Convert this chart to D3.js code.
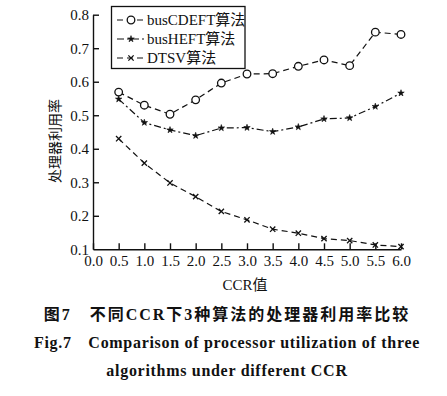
<!DOCTYPE html>
<html>
<head>
<meta charset="utf-8">
<script src="https://cdn.jsdelivr.net/npm/d3@7"></script>
<style>
  body { margin: 0; background: #fff; }
  svg text { font-family: "Liberation Serif", "Noto Sans CJK SC", serif; fill: #111; }
</style>
</head>
<body>
<script>
// data
const ccr = [0.5, 1.0, 1.5, 2.0, 2.5, 3.0, 3.5, 4.0, 4.5, 5.0, 5.5, 6.0];
const busCDEFT = [0.569, 0.530, 0.503, 0.546, 0.596, 0.623, 0.624, 0.646, 0.665, 0.648, 0.748, 0.741];
const busHEFT = [0.548, 0.478, 0.456, 0.439, 0.462, 0.463, 0.451, 0.465, 0.489, 0.492, 0.526, 0.566];
const DTSV = [0.430, 0.357, 0.298, 0.257, 0.213, 0.188, 0.160, 0.148, 0.132, 0.126, 0.113, 0.108];
const seriesNames = ["busCDEFT算法", "busHEFT算法", "DTSV算法"];
const xTicks = [0, 0.5, 1, 1.5, 2, 2.5, 3, 3.5, 4, 4.5, 5, 5.5, 6];
const yTicks = [0.1, 0.2, 0.3, 0.4, 0.5, 0.6, 0.7, 0.8];

const series = [
  {name: seriesNames[0], values: busCDEFT, dash: "6,4", marker: "circle"},
  {name: seriesNames[1], values: busHEFT, dash: "7,3,2,3", marker: "star"},
  {name: seriesNames[2], values: DTSV, dash: "6,4", marker: "cross"}
];

const svg = d3.select("body").append("svg")
  .attr("width", 447)
  .attr("height", 396);

const x = d3.scaleLinear().domain([0, 6]).range([93, 401]);
const y = d3.scaleLinear().domain([0.1, 0.8]).range([249.3, 14.7]);

// axes, ticks pointing inwards
const xAxis = svg.append("g")
  .attr("transform", "translate(0,249.3)")
  .call(d3.axisBottom(x).tickValues(xTicks).tickFormat(d3.format(".1f"))
    .tickSizeInner(-6).tickSizeOuter(0).tickPadding(6));
const yAxis = svg.append("g")
  .attr("transform", "translate(93,0)")
  .call(d3.axisLeft(y).tickValues(yTicks).tickFormat(d3.format(".1f"))
    .tickSizeInner(-6).tickSizeOuter(0).tickPadding(4));

[xAxis, yAxis].forEach(g => {
  g.selectAll("path, line").attr("stroke", "#111").attr("stroke-width", 1.4);
  g.selectAll("text").style("font-size", "15px").attr("fill", "#111");
});
yAxis.select(".tick:first-of-type line").remove();

svg.append("text")
  .attr("x", 245).attr("y", 290)
  .attr("text-anchor", "middle")
  .style("font-size", "15px")
  .text("CCR值");

svg.append("text")
  .attr("transform", "translate(60,141) rotate(-90)")
  .attr("text-anchor", "middle")
  .style("font-size", "14px")
  .text("处理器利用率");

const line = d3.line()
  .x((d, i) => x(ccr[i]))
  .y(d => y(d));

function drawMarker(g, type, cx, cy) {
  if (type === "circle") {
    g.append("circle").attr("cx", cx).attr("cy", cy).attr("r", 3.8)
      .attr("fill", "#fff").attr("stroke", "#111").attr("stroke-width", 1.3);
  } else if (type === "star") {
    g.append("path").attr("transform", `translate(${cx},${cy})`)
      .attr("d", d3.symbol(d3.symbolStar, 13)())
      .attr("fill", "#111").attr("stroke", "#111").attr("stroke-width", 0.6);
  } else {
    g.append("path").attr("transform", `translate(${cx},${cy})`)
      .attr("d", d3.symbol(d3.symbolTimes, 20)())
      .attr("fill", "none").attr("stroke", "#111").attr("stroke-width", 1.3);
  }
}

series.forEach(s => {
  svg.append("path")
    .datum(s.values)
    .attr("d", line)
    .attr("fill", "none")
    .attr("stroke", "#111")
    .attr("stroke-width", 1.2)
    .attr("stroke-dasharray", s.dash);
  const mg = svg.append("g");
  s.values.forEach((v, i) => drawMarker(mg, s.marker, x(ccr[i]), y(v)));
});

// legend
svg.append("rect")
  .attr("x", 111.5).attr("y", 6.5)
  .attr("width", 133.5).attr("height", 62)
  .attr("fill", "#fff").attr("stroke", "#111").attr("stroke-width", 1.3);

const legend = svg.selectAll(".legend")
  .data(series)
  .enter().append("g")
  .attr("class", "legend")
  .attr("transform", (d, i) => `translate(0,${20 + i * 19})`);

legend.append("line")
  .attr("x1", 117).attr("x2", 146)
  .attr("stroke", "#111").attr("stroke-width", 1.2)
  .attr("stroke-dasharray", d => d.dash);
legend.each(function(d) { drawMarker(d3.select(this), d.marker, 131, 0); });
legend.append("text")
  .attr("x", 147).attr("dy", "0.35em")
  .style("font-size", "15px")
  .text(d => d.name);

// caption
const caption = [
  {t: "图7　不同CCR下3种算法的处理器利用率比较", y: 320, size: 16, ls: 2},
  {t: "Fig.7　Comparison of processor utilization of three", y: 348, size: 16, ls: 0.7},
  {t: "algorithms under different CCR", y: 376, size: 16, ls: 0.7}
];
svg.selectAll(".cap")
  .data(caption)
  .enter().append("text")
  .attr("class", "cap")
  .attr("x", 227).attr("y", d => d.y)
  .attr("text-anchor", "middle")
  .style("font-size", d => d.size + "px")
  .style("font-weight", "bold")
  .style("letter-spacing", d => d.ls + "px")
  .text(d => d.t);
</script>
</body>
</html>
